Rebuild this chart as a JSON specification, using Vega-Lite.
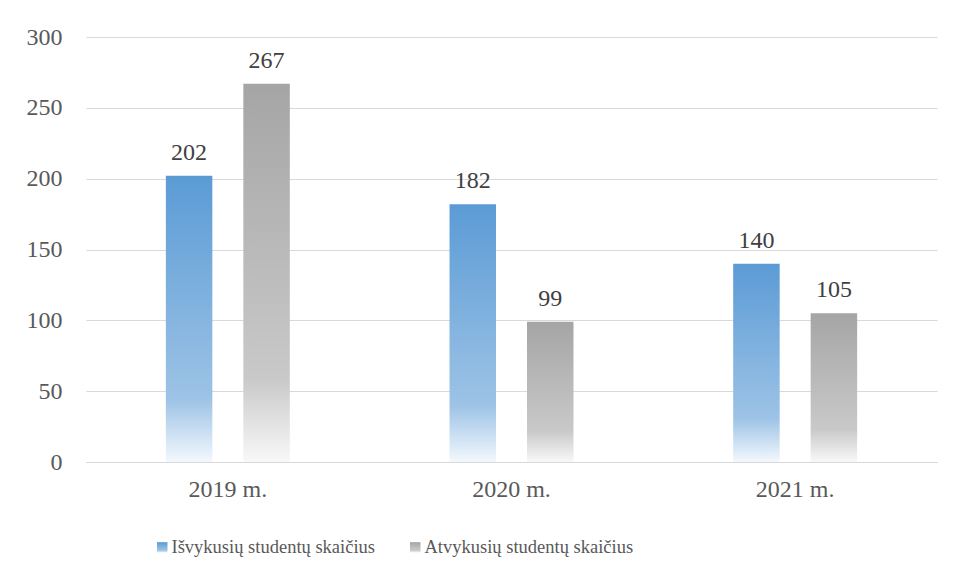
{
  "$schema": "https://vega.github.io/schema/vega-lite/v6.json",
  "autosize": "none",
  "width": 851,
  "height": 425,
  "padding": {"left": 86, "top": 37, "right": 18, "bottom": 115},
  "background": "white",
  "data": {
    "values": [
      {"year": "2019 m.", "series": "Išvykusių studentų skaičius", "value": 202},
      {"year": "2019 m.", "series": "Atvykusių studentų skaičius", "value": 267},
      {"year": "2020 m.", "series": "Išvykusių studentų skaičius", "value": 182},
      {"year": "2020 m.", "series": "Atvykusių studentų skaičius", "value": 99},
      {"year": "2021 m.", "series": "Išvykusių studentų skaičius", "value": 140},
      {"year": "2021 m.", "series": "Atvykusių studentų skaičius", "value": 105}
    ]
  },
  "encoding": {
    "x": {
      "field": "year", "type": "nominal", "sort": null,
      "scale": {"paddingInner": 0.563, "paddingOuter": 0.2815},
      "axis": {
        "title": null, "labelAngle": 0, "ticks": false, "domain": true,
        "domainColor": "#D9D9D9", "labelFont": "Liberation Serif",
        "labelFontSize": 24, "labelColor": "#595959", "labelPadding": 15
      }
    },
    "xOffset": {
      "field": "series", "type": "nominal",
      "scale": {"domain": ["Išvykusių studentų skaičius", "Atvykusių studentų skaičius"], "paddingInner": 0.4, "paddingOuter": 0}
    },
    "y": {
      "field": "value", "type": "quantitative",
      "scale": {"domain": [0, 300], "nice": false},
      "axis": {
        "title": null, "values": [0, 50, 100, 150, 200, 250, 300],
        "ticks": false, "domain": false, "gridColor": "#D9D9D9",
        "labelFont": "Liberation Serif", "labelFontSize": 24,
        "labelColor": "#595959", "labelPadding": 24
      }
    }
  },
  "layer": [
    {
      "mark": {"type": "bar"},
      "encoding": {
        "color": {
          "field": "series", "type": "nominal",
          "scale": {
            "domain": ["Išvykusių studentų skaičius", "Atvykusių studentų skaičius"],
            "range": [
              {"expr": "{gradient: 'linear', x1: 0, y1: 0, x2: 0, y2: 1, stops: [{offset: 0, color: '#5B9BD5'}, {offset: 0.78, color: '#9DC3E6'}, {offset: 1, color: '#F3F8FD'}]}"},
              {"expr": "{gradient: 'linear', x1: 0, y1: 0, x2: 0, y2: 1, stops: [{offset: 0, color: '#A5A5A5'}, {offset: 0.78, color: '#C9C9C9'}, {offset: 1, color: '#F8F8F8'}]}"}
            ]
          },
          "legend": {
            "title": null, "orient": "none", "direction": "horizontal",
            "legendX": 67, "legendY": 501,
            "symbolType": "square", "symbolSize": 110, "symbolStrokeWidth": 0,
            "labelFont": "Liberation Serif", "labelFontSize": 18.5, "labelLimit": 0,
            "labelColor": "#595959", "columnPadding": 31, "labelOffset": 0
          }
        }
      }
    },
    {
      "mark": {"type": "text", "baseline": "bottom", "dy": -11, "font": "Liberation Serif", "fontSize": 24, "color": "#404040"},
      "encoding": {
        "text": {"field": "value", "type": "quantitative"}
      }
    }
  ],
  "config": {"view": {"stroke": null}}
}
